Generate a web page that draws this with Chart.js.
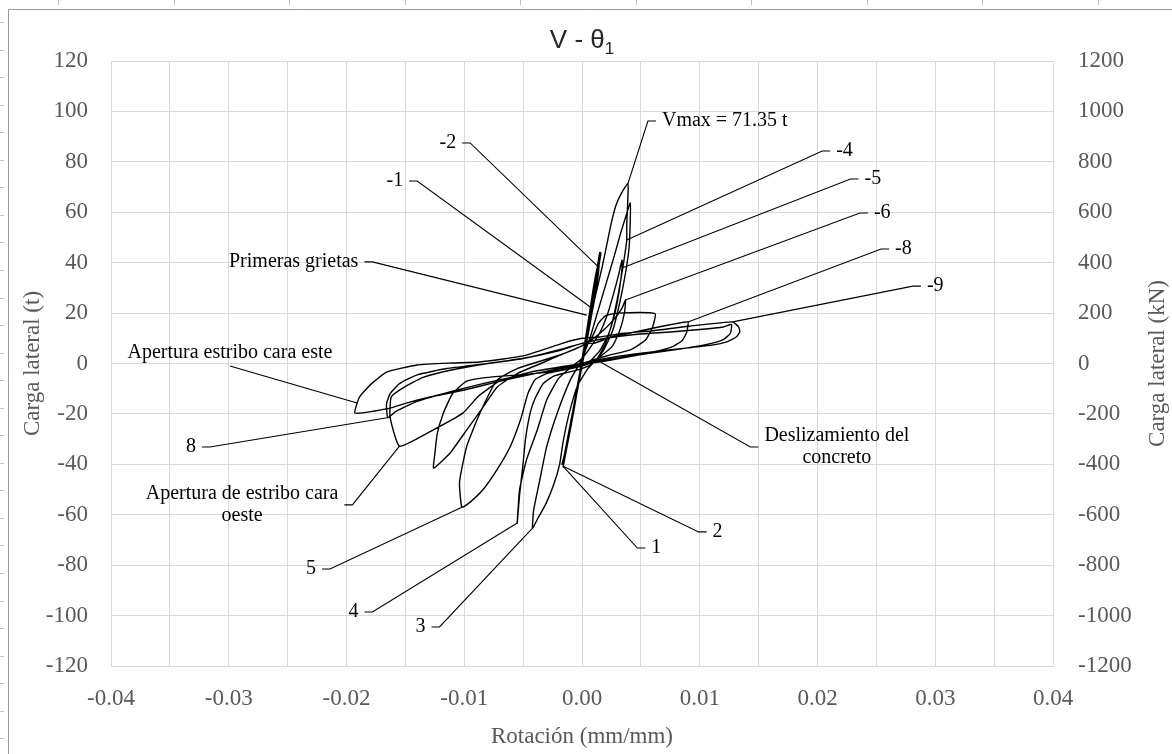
<!DOCTYPE html>
<html>
<head>
<meta charset="utf-8">
<title>V - θ1</title>
<script src="https://cdn.jsdelivr.net/npm/chart.js@4.4.1/dist/chart.umd.min.js"></script>
<style>
  html, body { margin: 0; padding: 0; background: #fff; }
  #wrap { position: relative; width: 1172px; height: 754px; }
</style>
</head>
<body>
<div id="wrap"><canvas id="canvas"></canvas></div>
<script>
// each cycle is a list of [rotation (mm/mm), lateral load (t)]
let cycle1 = [[0,0],[0.0004,10],[0.0009,23],[0.0013,35],[0.0016,43.5],[0.0014,38],[0.0009,25],[0.0004,11],[0,1],
  [-0.0004,-9],[-0.0009,-22],[-0.0013,-33],[-0.0016,-40.8],[-0.0014,-36],[-0.0009,-24],[-0.0004,-11],[0,-1]];
let cycle2 = [[0.0005,11],[0.0010,24],[0.0014,36],[0.0015,44],[0.0012,35],[0.0007,21],[0.0002,6],
  [-0.0003,-7],[-0.0008,-20],[-0.0013,-32],[-0.0016,-41],[-0.0012,-31],[-0.0007,-19],[-0.0002,-5],[0,0]];
let cycle3 = [[0.0003,9],[0.0007,20],[0.0011,31],[0.0014,40],[0.0016,44],[0.0013,37],[0.0008,24],[0.0003,10],
  [-0.0002,-4],[-0.0007,-17],[-0.0012,-29],[-0.0015,-38],[-0.0017,-40],[-0.0013,-33],[-0.0008,-21],[-0.0003,-8],[0,0]];
let cycle3b = [[0.0004,12],[0.0008,25],[0.0012,36],[0.0015,42],[0.0011,33],[0.0006,19],[0.0001,4],
  [-0.0004,-10],[-0.0009,-23],[-0.0014,-35],[-0.0016,-39],[-0.0012,-29],[-0.0006,-15],[-0.0001,-2],[0,0]];
let cycle4 = [[0.0005,12],[0.0011,26],[0.0017,38],[0.0021,47],[0.0025,56],[0.0029,63],[0.0034,68],[0.0039,71.35],
  [0.0039,66],[0.0038,55],[0.0038,49],[0.0035,39],[0.0031,28],[0.0026,17],[0.0020,8],[0.0013,2],[0.0005,-2],
  [-0.0004,-9],[-0.0011,-20],[-0.0016,-31],[-0.0019,-40],[-0.0024,-48],[-0.0031,-56],[-0.0037,-61],[-0.0042,-65.3],
  [-0.0041,-58],[-0.0036,-46.6],[-0.0030,-33],[-0.0021,-19.6],[-0.0010,-6.6],[-0.0002,0]];
let cycle5 = [[0.0006,9],[0.0013,20],[0.0020,31],[0.0027,42],[0.0033,52],[0.0037,58],[0.0041,63.7],
  [0.0041,57],[0.0040,46],[0.0037,36],[0.0032,24],[0.0026,13],[0.0018,5],[0.0009,0],[0,-2],
  [-0.0012,-3.5],[-0.0024,-5],[-0.0033,-8],[-0.0040,-14],[-0.0044,-19.6],[-0.0048,-30],[-0.0050,-39.5],[-0.0053,-52],[-0.0055,-63.3],
  [-0.0053,-50],[-0.0047,-38],[-0.0038,-26.4],[-0.0030,-14.5],[-0.0020,-6],[-0.0008,-1],[0,2]];
let cycle6 = [[0.0008,7],[0.0016,13],[0.0022,20],[0.0027,28],[0.0031,35],[0.0034,41],
  [0.0034,37.9],[0.0032,30],[0.0028,20],[0.0022,11],[0.0015,5],[0.0007,1],[0,-1],
  [-0.0015,-2.5],[-0.0030,-4],[-0.0040,-6.5],[-0.0046,-12],[-0.0052,-22],[-0.0061,-33],[-0.0072,-42],[-0.0084,-50],[-0.0095,-55],[-0.0102,-57],
  [-0.0104,-47],[-0.0098,-33],[-0.0087,-20],[-0.0072,-6.5],[-0.0055,-2],[-0.0035,1],[-0.0015,4],[0,7]];
let cycle7 = [[0.0010,10],[0.0020,14],[0.0028,18],[0.0034,22],[0.0037,25.2],
  [0.0036,20],[0.0032,13],[0.0026,7],[0.0016,3],[0.0006,0],
  [-0.0010,-2],[-0.0030,-3.5],[-0.0055,-4.5],[-0.0080,-5.5],[-0.0098,-7],[-0.0110,-12],[-0.0118,-20],[-0.0123,-28],[-0.0125,-36],[-0.0126,-41.5],
  [-0.0112,-35.5],[-0.0098,-26.4],[-0.0084,-17.3],[-0.0072,-9.3],[-0.0055,-4],[-0.0035,0],[-0.0015,4],[0,7]];
let cycle8 = [[0.0008,10],[0.0014,16],[0.0020,19],[0.0030,20],[0.0062,19.8],
  [0.0060,14.5],[0.0054,9.3],[0.0041,5.4],[0.0024,3.4],[0.0010,1.5],[0,0],
  [-0.0020,-1.5],[-0.0045,-3.5],[-0.0070,-7],[-0.0088,-13],[-0.0101,-19.6],[-0.0129,-27],[-0.0155,-32.8],[-0.0163,-21.3],
  [-0.0162,-13.3],[-0.0152,-9.7],[-0.0135,-5.5],[-0.0110,-2.5],[-0.0080,0],[-0.0050,2],[-0.0020,5],[0,8]];
let cycle9 = [[0.0010,8],[0.0025,10.5],[0.0045,12.5],[0.0065,14.5],[0.0080,15.8],[0.0090,16.5],
  [0.0089,12.5],[0.0085,9],[0.0076,6.5],[0.0060,4.6],[0.0040,3],[0.0020,1.5],[0,-0.5],
  [-0.0040,-4],[-0.0072,-7.3],[-0.0100,-10.5],[-0.0129,-13.3],[-0.0150,-15.8],[-0.0163,-17.7],[-0.0178,-19],[-0.0186,-19.6],[-0.0193,-19.6],
  [-0.0191,-15.7],[-0.0189,-13.3],[-0.0183,-10],[-0.0177,-7.3],[-0.0166,-3.4],[-0.0140,-0.6],[-0.0110,0.2],[-0.0087,0.6],[-0.0050,3],[-0.0016,8.1],[0,10]];
let cycle10 = [[0.0015,10.5],[0.0035,12],[0.0060,13],[0.0085,14.5],[0.0105,15.5],[0.0128,16.5],
  [0.0133,14.5],[0.0134,12.5],[0.0131,10.5],[0.0123,8.6],[0.0110,7.3],[0.0090,6.2],[0.0070,5.2],[0.0045,3.8],[0.0020,2],[0,0],
  [-0.0030,-3],[-0.0070,-6.5],[-0.0110,-11],[-0.0140,-15],[-0.0158,-19],[-0.0165,-21.5],
  [-0.0166,-16],[-0.0163,-12],[-0.0155,-8],[-0.0140,-4.5],[-0.0115,-2],[-0.0080,0],[-0.0045,2.5],[-0.0015,6],[0,8]];
let cycle11 = [[0.0020,10],[0.0045,11.5],[0.0075,12.5],[0.0100,13.5],[0.0120,14.5],[0.0127,15.5],
  [0.0126,12],[0.0120,9.5],[0.0105,7.5],[0.0080,5.5],[0.0050,3.5],[0.0020,1],[0,-0.5]];

let cycles = [cycle1, cycle2, cycle3, cycle3b, cycle4, cycle5, cycle6, cycle7, cycle8, cycle9, cycle10, cycle11];

// callouts: text, label anchor and pointed value, both in [rotation, load]
let callouts = [
  { text: ['Vmax = 71.35 t'], at: [0.0056, 96.2], to: [0.0039, 71.35], side: 'right' },
  { text: ['-4'], at: [0.0204, 84.3], to: [0.0038, 49], side: 'right' },
  { text: ['-5'], at: [0.0228, 73.2], to: [0.0034, 37.9], side: 'right' },
  { text: ['-6'], at: [0.0236, 59.7], to: [0.0037, 25.2], side: 'right' },
  { text: ['-8'], at: [0.0254, 45.4], to: [0.0090, 16.5], side: 'right' },
  { text: ['-9'], at: [0.0281, 30.7], to: [0.0128, 16.5], side: 'right' },
  { text: ['1'], at: [0.0047, -73.2], to: [-0.0016, -40.8], side: 'right' },
  { text: ['2'], at: [0.0099, -66.8], to: [-0.0016, -40.8], side: 'right' },
  { text: ['Deslizamiento del', 'concreto'], at: [0.0143, -33.1], to: [0.0016, 0.5], side: 'right' },
  { text: ['-2'], at: [-0.0095, 87.5], to: [0.0013, 38.7], side: 'left' },
  { text: ['-1'], at: [-0.0140, 72.4], to: [0.0007, 22.4], side: 'left' },
  { text: ['Primeras grietas'], at: [-0.0178, 40.3], to: [0.0004, 19.2], side: 'left' },
  { text: ['Apertura estribo cara este'], at: [-0.0299, -1.0], to: [-0.0191, -15.7], side: 'above' },
  { text: ['8'], at: [-0.0316, -33.1], to: [-0.0163, -21.3], side: 'left' },
  { text: ['Apertura de estribo cara', 'oeste'], at: [-0.0195, -56.1], to: [-0.0155, -32.8], side: 'left' },
  { text: ['5'], at: [-0.0214, -81.5], to: [-0.0102, -57], side: 'left' },
  { text: ['4'], at: [-0.0178, -98.6], to: [-0.0055, -63.3], side: 'left' },
  { text: ['3'], at: [-0.0121, -104.5], to: [-0.0042, -65.3], side: 'left' }
];

let title = 'V - θ';
let titleSub = '1';
let xTitle = 'Rotación (mm/mm)';
let yTitle = 'Carga lateral (t)';
let y2Title = 'Carga lateral (kN)';

let serif = '"Liberation Serif", "Times New Roman", serif';
let gridColor = '#d9d9d9';
let textGray = '#595959';

let points = [];
cycles.forEach(c => c.forEach(p => points.push({ x: p[0], y: p[1] })));

// frame, title, axis titles and the callout leaders
let decorations = {
  id: 'decorations',
  beforeDraw(chart) {
    let ctx = chart.ctx;
    ctx.save();
    ctx.fillStyle = '#fff';
    ctx.fillRect(0, 0, chart.width, chart.height);
    ctx.strokeStyle = '#9a9a9a';
    ctx.lineWidth = 1;
    ctx.beginPath();
    ctx.moveTo(8.5, chart.height);
    ctx.lineTo(8.5, 9.5);
    ctx.lineTo(chart.width, 9.5);
    ctx.stroke();
    ctx.strokeStyle = '#c0c0c0';
    ctx.beginPath();
    for (let yy = 22; yy < chart.height; yy += 27.55) {
      ctx.moveTo(0, Math.round(yy) + 0.5);
      ctx.lineTo(4, Math.round(yy) + 0.5);
    }
    for (let xx = 58; xx < chart.width; xx += 115.5) {
      ctx.moveTo(Math.round(xx) + 0.5, 0);
      ctx.lineTo(Math.round(xx) + 0.5, 5);
    }
    ctx.stroke();
    ctx.restore();
  },
  afterDatasetsDraw(chart) {
    let ctx = chart.ctx;
    let sx = chart.scales.x, sy = chart.scales.y;
    ctx.save();
    ctx.strokeStyle = '#000';
    ctx.fillStyle = '#000';
    ctx.lineWidth = 1.1;
    ctx.font = '20px ' + serif;
    ctx.textBaseline = 'middle';
    callouts.forEach(c => {
      let ax = sx.getPixelForValue(c.at[0]), ay = sy.getPixelForValue(c.at[1]);
      let tx = sx.getPixelForValue(c.to[0]), ty = sy.getPixelForValue(c.to[1]);
      ctx.beginPath();
      ctx.moveTo(tx, ty);
      ctx.lineTo(ax, ay);
      let lh = 22;
      let w = Math.max(...c.text.map(t => ctx.measureText(t).width));
      if (c.side === 'above') {
        ctx.stroke();
        ctx.textAlign = 'center';
        ctx.fillText(c.text[0], ax, ay - 13);
        return;
      }
      let dir = c.side === 'right' ? 1 : -1;
      ctx.lineTo(ax + dir * 8, ay);
      ctx.stroke();
      ctx.textAlign = 'center';
      let cx = ax + dir * (14 + w / 2);
      let y0 = ay - (c.text.length - 1) * lh / 2;
      c.text.forEach((t, i) => ctx.fillText(t, cx, y0 + i * lh));
    });
    ctx.restore();
  },
  afterDraw(chart) {
    let ctx = chart.ctx;
    let area = chart.chartArea;
    let mid = (area.left + area.right) / 2;
    ctx.save();
    ctx.fillStyle = '#262626';
    ctx.textBaseline = 'alphabetic';
    ctx.font = '26px "Liberation Sans", Arial, sans-serif';
    let w1 = ctx.measureText(title).width;
    ctx.font = '17px "Liberation Sans", Arial, sans-serif';
    let w2 = ctx.measureText(titleSub).width;
    let x0 = mid - (w1 + w2) / 2;
    ctx.font = '26px "Liberation Sans", Arial, sans-serif';
    ctx.textAlign = 'left';
    ctx.fillText(title, x0, 48);
    ctx.font = '17px "Liberation Sans", Arial, sans-serif';
    ctx.fillText(titleSub, x0 + w1, 54);

    ctx.fillStyle = textGray;
    ctx.font = '23px ' + serif;
    ctx.textAlign = 'center';
    ctx.textBaseline = 'middle';
    ctx.fillText(xTitle, mid, 737);
    let cy = (area.top + area.bottom) / 2;
    ctx.translate(33, cy);
    ctx.rotate(-Math.PI / 2);
    ctx.fillText(yTitle, 0, 0);
    ctx.restore();
    ctx.save();
    ctx.fillStyle = textGray;
    ctx.font = '23px ' + serif;
    ctx.textAlign = 'center';
    ctx.textBaseline = 'middle';
    ctx.translate(1158, cy);
    ctx.rotate(-Math.PI / 2);
    ctx.fillText(y2Title, 0, 0);
    ctx.restore();
  }
};

let tickFont = { family: serif, size: 23 };

let options = {
  type: 'scatter',
  data: {
    datasets: [{
      data: points,
      showLine: true,
      borderColor: '#000',
      borderWidth: 1.4,
      tension: 0.15,
      pointRadius: 0,
      fill: false
    }]
  },
  options: {
    responsive: true,
    maintainAspectRatio: false,
    devicePixelRatio: 1,
    animation: false,
    layout: { padding: { top: 61, left: 0, right: 0, bottom: 0 } },
    plugins: { legend: { display: false }, title: { display: false }, tooltip: { enabled: false } },
    scales: {
      x: {
        type: 'linear', min: -0.04, max: 0.04,
        grid: { color: gridColor, drawTicks: false },
        border: { color: gridColor },
        ticks: {
          stepSize: 0.005, autoSkip: false, maxRotation: 0, padding: 19,
          font: tickFont, color: textGray,
          callback: v => {
            let k = Math.round(v * 200);
            if (k % 2 !== 0) return '';
            return k === 0 ? '0.00' : (k / 200).toFixed(2);
          }
        },
        afterFit: s => { s.height = 88; }
      },
      y: {
        position: 'left', min: -120, max: 120,
        grid: { color: gridColor, drawTicks: false },
        border: { color: gridColor },
        ticks: { stepSize: 20, padding: 23, font: tickFont, color: textGray, callback: v => String(v) },
        afterFit: s => { s.width = 111; }
      },
      y2: {
        position: 'right', min: -1200, max: 1200,
        grid: { display: false, drawTicks: false },
        border: { color: gridColor },
        ticks: { stepSize: 200, padding: 25, font: tickFont, color: textGray, callback: v => String(v) },
        afterFit: s => { s.width = 119; }
      }
    }
  },
  plugins: [decorations]
};

let chart = new Chart(document.getElementById('canvas'), options);
</script>
</body>
</html>
